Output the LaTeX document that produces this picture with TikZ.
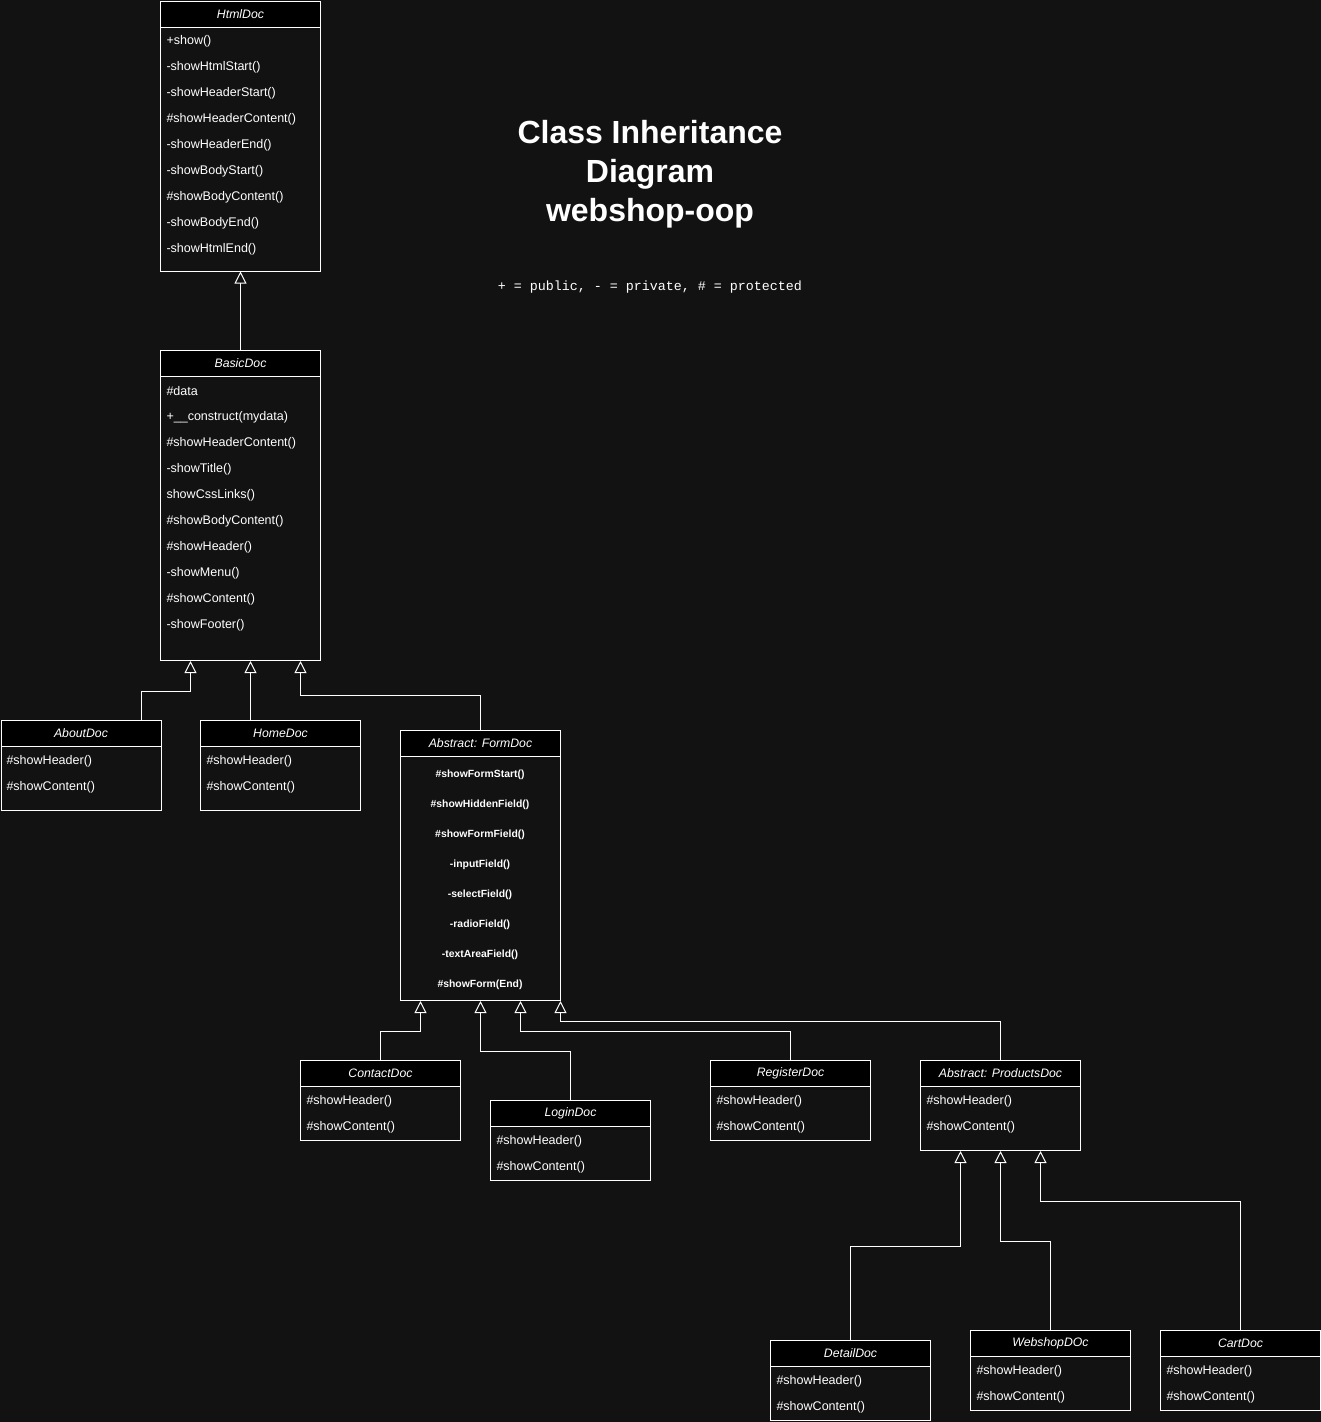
\documentclass[tikz,border=0pt]{standalone}
\usepackage{fontspec}
\setmainfont{Liberation Sans}
\setmonofont{Liberation Mono}
\usetikzlibrary{arrows.meta, calc}
\definecolor{fondo}{HTML}{121212}

\tikzset{
  clase/.style={draw=white, anchor=north west, inner sep=0pt, minimum width=120pt},
  cabecera/.style={draw=white, fill=black, anchor=north west, inner sep=0pt,
    minimum width=120pt, minimum height=19.5pt, font=\fontsize{9.2}{11}\selectfont\itshape},
  metodo/.style={anchor=west, inner sep=0pt, font=\fontsize{9.4}{11}\selectfont},
  metodoform/.style={inner sep=0pt, font=\fontsize{7.8}{9}\selectfont\bfseries},
  hereda/.style={draw=white, -{Triangle[open, length=9pt, width=9pt]}},
}

\begin{document}
\begin{tikzpicture}[x=0.75pt, y=-0.75pt, color=white, line width=0.75pt]
        % Fondo
        \fill[fondo] (0,0) rectangle (1321,1422);
        \useasboundingbox (0,0) rectangle (1321,1422);
        % Titulo y leyenda
        \node[align=center, font=\fontsize{24}{29.25}\selectfont\bfseries] (titulo) at (650,174)
          {Class Inheritance\\Diagram\\webshop-oop};
        \node[font=\fontsize{10}{12}\selectfont\ttfamily] (leyenda) at (650,287)
          {+ = public, - = private, \# = protected};

        % Clase HtmlDoc
        \node[clase, minimum height=202.5pt] (html) at (160,0.5) {};
        \node[cabecera] (htmlT) at (160,0.5) {HtmlDoc};
        \foreach \m [count=\i] in {+show(), -showHtmlStart(), -showHeaderStart(),
            \#showHeaderContent(), -showHeaderEnd(), -showBodyStart(),
            \#showBodyContent(), -showBodyEnd(), -showHtmlEnd()}
          \node[metodo] (html-\i) at (166,{15+26*\i}) {\m};

        % Clase BasicDoc
        \node[clase, minimum height=232.5pt] (basic) at (160,350) {};
        \node[cabecera] (basicT) at (160,350) {BasicDoc};
        \foreach \m [count=\i] in {\#data, +\_\_construct(mydata), \#showHeaderContent(),
            -showTitle(), showCssLinks(), \#showBodyContent(), \#showHeader(),
            -showMenu(), \#showContent(), -showFooter()}
          \node[metodo] (basic-\i) at (166,{365+26*\i}) {\m};

        % Clases AboutDoc y HomeDoc
        \node[clase, minimum height=67.5pt] (about) at (0.5,720) {};
        \node[cabecera] (aboutT) at (0.5,720) {AboutDoc};
        \node[metodo] (about-1) at (6,761) {\#showHeader()};
        \node[metodo] (about-2) at (6,787) {\#showContent()};

        \node[clase, minimum height=67.5pt] (home) at (200,720) {};
        \node[cabecera] (homeT) at (200,720) {HomeDoc};
        \node[metodo] (home-1) at (206,761) {\#showHeader()};
        \node[metodo] (home-2) at (206,787) {\#showContent()};

        % Clase abstracta FormDoc
        \node[clase, minimum height=202.5pt] (form) at (400,730) {};
        \node[cabecera] (formT) at (400,730) {Abstract: FormDoc};
        \foreach \m [count=\i] in {\#showFormStart(), \#showHiddenField(), \#showFormField(),
            -inputField(), -selectField(), -radioField(), -textAreaField(), \#showForm(End)}
          \node[metodoform] (form-\i) at (480,{745+30*\i}) {\m};

        % Hijos de FormDoc
        \node[clase, minimum height=60pt] (contact) at (300,1060) {};
        \node[cabecera] (contactT) at (300,1060) {ContactDoc};
        \node[metodo] (contact-1) at (306,1101) {\#showHeader()};
        \node[metodo] (contact-2) at (306,1127) {\#showContent()};

        \node[clase, minimum height=60pt] (login) at (490,1100) {};
        \node[cabecera] (loginT) at (490,1100) {LoginDoc};
        \node[metodo] (login-1) at (496,1141) {\#showHeader()};
        \node[metodo] (login-2) at (496,1167) {\#showContent()};

        \node[clase, minimum height=60pt] (register) at (710,1060) {};
        \node[cabecera] (registerT) at (710,1060) {RegisterDoc};
        \node[metodo] (register-1) at (716,1101) {\#showHeader()};
        \node[metodo] (register-2) at (716,1127) {\#showContent()};

        \node[clase, minimum height=67.5pt] (products) at (920,1060) {};
        \node[cabecera] (productsT) at (920,1060) {Abstract: ProductsDoc};
        \node[metodo] (products-1) at (926,1101) {\#showHeader()};
        \node[metodo] (products-2) at (926,1127) {\#showContent()};

        % Hijos de ProductsDoc
        \node[clase, minimum height=60pt] (detail) at (770,1340) {};
        \node[cabecera] (detailT) at (770,1340) {DetailDoc};
        \node[metodo] (detail-1) at (776,1381) {\#showHeader()};
        \node[metodo] (detail-2) at (776,1407) {\#showContent()};

        \node[clase, minimum height=60pt] (webshop) at (970,1330) {};
        \node[cabecera] (webshopT) at (970,1330) {WebshopDOc};
        \node[metodo] (webshop-1) at (976,1371) {\#showHeader()};
        \node[metodo] (webshop-2) at (976,1397) {\#showContent()};

        \node[clase, minimum height=60pt] (cart) at (1160,1330) {};
        \node[cabecera] (cartT) at (1160,1330) {CartDoc};
        \node[metodo] (cart-1) at (1166,1371) {\#showHeader()};
        \node[metodo] (cart-2) at (1166,1397) {\#showContent()};

        % Flechas de herencia
        \draw[hereda] (basic.north) -- (html.south);
        \draw[hereda] ($(about.north)+(60,0)$) |- ($(basic.south)+(-50,30)$) -- ($(basic.south)+(-50,0)$);
        \draw[hereda] ($(home.north)+(-30,0)$) -- ($(basic.south)+(10,0)$);
        \draw[hereda] (form.north) |- ($(basic.south)+(60,34)$) -- ($(basic.south)+(60,0)$);

        \draw[hereda] (contact.north) |- ($(form.south)+(-60,30)$) -- ($(form.south)+(-60,0)$);
        \draw[hereda] (login.north) |- ($(form.south)+(0,50)$) -- (form.south);
        \draw[hereda] (register.north) |- ($(form.south)+(40,30)$) -- ($(form.south)+(40,0)$);
        \draw[hereda] (products.north) |- ($(form.south)+(80,20)$) -- ($(form.south)+(80,0)$);

        \draw[hereda] (detail.north) |- ($(products.south)+(-40,95)$) -- ($(products.south)+(-40,0)$);
        \draw[hereda] (webshop.north) |- ($(products.south)+(0,90)$) -- (products.south);
        \draw[hereda] (cart.north) |- ($(products.south)+(40,50)$) -- ($(products.south)+(40,0)$);
    \end{tikzpicture}
\end{document}
